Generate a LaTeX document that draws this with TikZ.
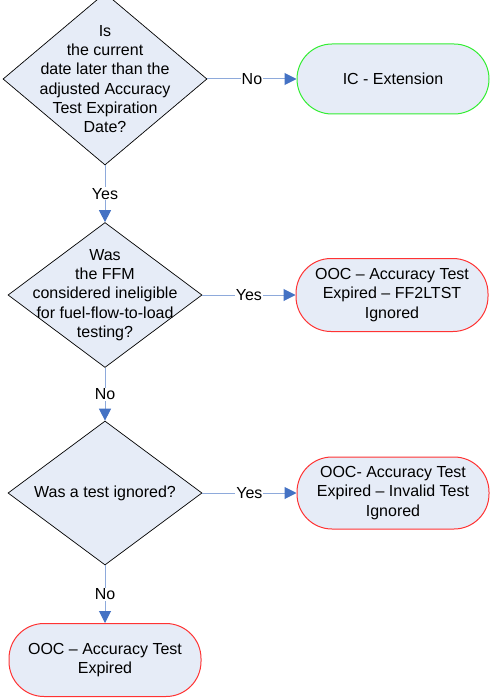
\documentclass[tikz,border=0pt]{standalone}
\usepackage{fontspec}
\setmainfont{Liberation Sans}
\usetikzlibrary{shapes.geometric,arrows.meta}

\definecolor{boxfill}{HTML}{E6ECF7}
\definecolor{lineblue}{HTML}{8EAADB}
\definecolor{arrowblue}{HTML}{4472C4}
\definecolor{okgreen}{HTML}{33EE33}
\definecolor{badred}{HTML}{FF3333}

\begin{document}
\begin{tikzpicture}[
  x = 1pt, y = 1pt,
  every node/.style = {font = \fontsize{16}{19.3}\selectfont},
  decision/.style = {draw = black, line width = 0.7pt, fill = boxfill, diamond,
                     minimum width = 194pt, minimum height = 144pt, inner sep = 0pt},
  qtext/.style = {align = center, inner sep = 0pt},
  result/.style = {fill = boxfill, line width = 1pt, rounded corners = 35pt,
                   minimum width = 192pt, minimum height = 72pt, align = center},
  good/.style = {result, draw = okgreen},
  bad/.style = {result, draw = badred},
  flow/.style = {draw = lineblue, line width = 1pt,
                 -{Triangle[length = 12pt, width = 12pt, color = arrowblue]}},
  answer/.style = {fill = white, inner sep = 1pt},
  ]
  \useasboundingbox (0,0) rectangle (490,-698);

  % questions
  \node[decision, minimum width = 204pt, minimum height = 172pt,
        label = {[qtext]center:Is\\the current\\date later than the\\adjusted Accuracy\\Test Expiration\\Date?}]
        (expired) at (105,-79) {};
  \node[decision, minimum height = 145pt,
        label = {[qtext]center:Was\\the FFM\\considered ineligible\\for fuel-flow-to-load\\testing?}]
        (ineligible) at (105,-295) {};
  \node[decision,
        label = {[qtext]center:Was a test ignored?}]
        (ignored) at (105,-493) {};

  % results
  \node[good, minimum height = 70pt] (extension) at (393,-79) {IC - Extension};
  \node[bad, minimum height = 73pt] (ff2ltst) at (392,-295)
        {OOC – Accuracy Test\\Expired – FF2LTST\\Ignored};
  \node[bad] (invalid) at (393,-493)
        {OOC- Accuracy Test\\Expired – Invalid Test\\Ignored};
  \node[bad, minimum height = 73pt] (plain) at (105,-660)
        {OOC – Accuracy Test\\Expired};

  % connectors
  \draw[flow] (expired.east) -- node[answer] {No} (extension.west);
  \draw[flow] (expired.south) -- node[answer] {Yes} (ineligible.north);
  \draw[flow] (ineligible.east) -- node[answer] {Yes} (ff2ltst.west);
  \draw[flow] (ineligible.south) -- node[answer] {No} (ignored.north);
  \draw[flow] (ignored.east) -- node[answer] {Yes} (invalid.west);
  \draw[flow] (ignored.south) -- node[answer] {No} (plain.north);
\end{tikzpicture}
\end{document}
